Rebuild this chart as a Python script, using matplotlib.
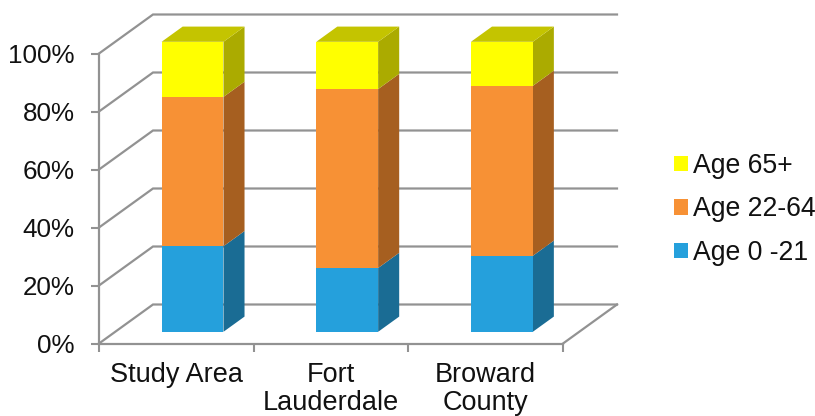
import matplotlib
matplotlib.use("Agg")
import matplotlib.pyplot as plt
from matplotlib.patches import Polygon, Patch

plt.rcParams["font.family"] = ["Liberation Sans", "DejaVu Sans"]
plt.rcParams["text.color"] = "#111111"
plt.rcParams["xtick.labelcolor"] = "#111111"
plt.rcParams["ytick.labelcolor"] = "#111111"

categories = ["Study Area", "Fort\nLauderdale", "Broward\nCounty"]
age_0_21 = [29.5, 22.0, 26.2]
age_22_64 = [51.5, 61.7, 58.6]
age_65_plus = [19.0, 16.3, 15.2]
series_labels = ["Age 0 -21", "Age 22-64", "Age 65+"]
front_colors = ["#25A0DC", "#F79135", "#FFFF00"]
side_colors = ["#1A6C94", "#A65F20", "#ABAB00"]
top_color = "#C4C400"
grid_color = "#929292"
y_ticks = [0, 20, 40, 60, 80, 100]

W, H = 815, 416
fig = plt.figure(figsize=(W / 100, H / 100), dpi=100)
# Axes frame: the front plane of the oblique box
left, right, bottom, top = 99, 563, 343.5, 53.5
ax = fig.add_axes([left / W, 1 - bottom / H, (right - left) / W, (bottom - top) / H])
ax.set_xlim(0, 3)
ax.set_ylim(0, 100)
ax.patch.set_visible(False)

# Oblique projection: depth d in 0..1 shifts a point up and to the right
DEPTH_X = 54 / ((right - left) / 3)
DEPTH_Y = 39 / ((bottom - top) / 100)


def project(x, y, d):
    return x + d * DEPTH_X, y + d * DEPTH_Y


# Walls and floor
for v in y_ticks:
    x0, y0 = project(0, v, 0)
    x1, y1 = project(0, v, 1)
    x2, y2 = project(3, v, 1)
    ax.plot([x0, x1, x2], [y0, y1, y2], color=grid_color, lw=1.6,
            clip_on=False, zorder=1, solid_joinstyle="miter")
fx, fy = project(3, 0, 0)
bx, by = project(3, 0, 1)
ax.plot([fx, bx], [fy, by], color=grid_color, lw=1.6, clip_on=False, zorder=1)

# Stacked bars as boxes
BAR_WIDTH = 0.4
D0, D1 = 0.30, 0.69
for i in range(len(categories)):
    xa = i + 0.5 - BAR_WIDTH / 2
    xb = i + 0.5 + BAR_WIDTH / 2
    base = 0
    segments = [age_0_21[i], age_22_64[i], age_65_plus[i]]
    for value, front, side in zip(segments, front_colors, side_colors):
        y0, y1 = base, base + value
        ax.add_patch(Polygon([project(xb, y0, D0), project(xb, y0, D1),
                              project(xb, y1, D1), project(xb, y1, D0)],
                             closed=True, fc=side, ec="none", clip_on=False, zorder=3))
        ax.add_patch(Polygon([project(xa, y0, D0), project(xb, y0, D0),
                              project(xb, y1, D0), project(xa, y1, D0)],
                             closed=True, fc=front, ec="none", clip_on=False, zorder=4))
        base = y1
    ax.add_patch(Polygon([project(xa, base, D0), project(xb, base, D0),
                          project(xb, base, D1), project(xa, base, D1)],
                         closed=True, fc=top_color, ec="none", clip_on=False, zorder=3))

# Axes lines, ticks and labels
for name in ("top", "right"):
    ax.spines[name].set_visible(False)
for name in ("left", "bottom"):
    ax.spines[name].set_color(grid_color)
    ax.spines[name].set_linewidth(1.6)
ax.set_yticks(y_ticks, [f"{v}%" for v in y_ticks])
ax.set_xticks([0, 1, 2, 3], minor=False, labels=["", "", "", ""])
ax.set_xticks([0.5, 1.5, 2.5], labels=categories, minor=True)
ax.tick_params(axis="y", length=5.5, width=1.5, color=grid_color, labelsize=18.7, pad=12)
ax.tick_params(axis="x", which="major", length=5.5, width=1.5, color=grid_color)
ax.tick_params(axis="x", which="minor", length=0, labelsize=19.5, pad=13)
for lab in ax.get_xticklabels(minor=True):
    lab.set_linespacing(1.12)

# Legend, newest series on top
handles = [Patch(fc=c, ec="none", label=l) for c, l in zip(front_colors, series_labels)][::-1]
fig.legend(handles=handles, loc="center left", bbox_to_anchor=(674 / W, 1 - 209.5 / H),
           frameon=False, fontsize=19.2, handlelength=0.52, handleheight=0.52,
           handletextpad=0.19, labelspacing=0.65, borderpad=0, borderaxespad=0)

fig.savefig("out.png", dpi=100)
